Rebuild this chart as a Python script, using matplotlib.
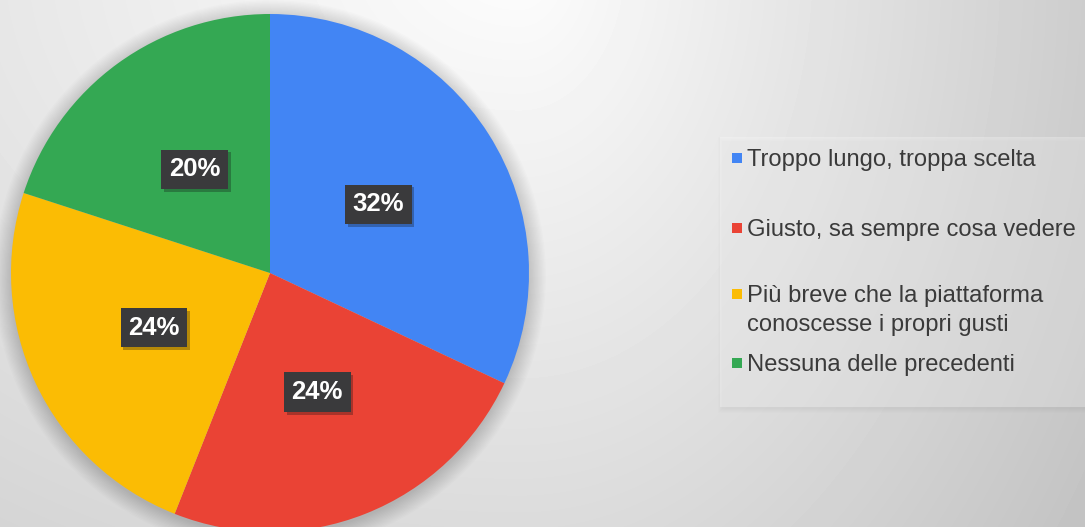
import numpy as np
import matplotlib.pyplot as plt
from matplotlib.patches import Circle, Rectangle
from matplotlib import patheffects

plt.rcParams['font.family'] = ['Liberation Sans', 'DejaVu Sans']

labels = ["Troppo lungo, troppa scelta",
          "Giusto, sa sempre cosa vedere",
          "Più breve che la piattaforma\nconoscesse i propri gusti",
          "Nessuna delle precedenti"]
shares = [32, 24, 24, 20]
colors = ["#4285F4", "#EA4335", "#FBBC04", "#34A853"]

W, H = 1085, 527
fig = plt.figure(figsize=(W / 100, H / 100), dpi=100)
ax = fig.add_axes([0, 0, 1, 1])

# soft grey backdrop, brightest near the top middle
X, Y = np.meshgrid(np.arange(W) + 0.5, np.arange(H) + 0.5)
dx = X - 520
dx = np.where(dx < 0, dx * 0.5, dx)
dy = (Y + 40) * 0.7
shade = np.clip(253 - 0.085 * np.hypot(dx, dy), 0, 255) / 255
ax.imshow(shade, cmap='gray', vmin=0, vmax=1, extent=[0, W, 0, H],
          origin='upper', zorder=0, aspect='auto')

cx, cy, r = 270, 254, 259

# blurry shadow under the pie
for i in range(14):
    ax.add_patch(Circle((cx, cy - 3), r + i * 1.3, color='black',
                        alpha=0.011, lw=0, zorder=1))

wedges, texts, autotexts = ax.pie(
    shares, colors=colors, startangle=90, counterclock=False,
    center=(cx, cy), radius=r, autopct=lambda p: f'{p:.0f}%',
    pctdistance=0.495, wedgeprops=dict(linewidth=0, zorder=2),
    textprops=dict(color='white', fontsize=18.5, fontweight='bold'))

for t in autotexts:
    t.set_zorder(5)
    t.set_bbox(dict(boxstyle='square,pad=0.3', facecolor='#3a3a3c',
                    edgecolor='none'))
    t.get_bbox_patch().set_path_effects([
        patheffects.SimplePatchShadow(offset=(2, -2), alpha=0.3),
        patheffects.Normal()])

# legend panel
for i in range(5):
    ax.add_patch(Rectangle((722 - i, 120 - i - 2), 380, 268 + 2 * i,
                           color='black', alpha=0.006, lw=0, zorder=1))
ax.add_patch(Rectangle((720, 120), 380, 270, facecolor='white',
                       alpha=0.3, lw=0, zorder=2))

row_y = [527 - 158, 527 - 228, 527 - 294, 527 - 363]
line_gap = 29
for lab, col, y in zip(labels, colors, row_y):
    ax.add_patch(Rectangle((732, y - 5), 10, 10, color=col, lw=0, zorder=3))
    for k, line in enumerate(lab.split('\n')):
        ax.text(747, y - 8 - k * line_gap, line, fontsize=17.1,
                color='#3a3a3a', va='baseline', ha='left', zorder=3)

ax.set_xlim(0, W)
ax.set_ylim(0, H)
ax.set_aspect('auto')
ax.axis('off')

fig.savefig('out.png', dpi=100)
